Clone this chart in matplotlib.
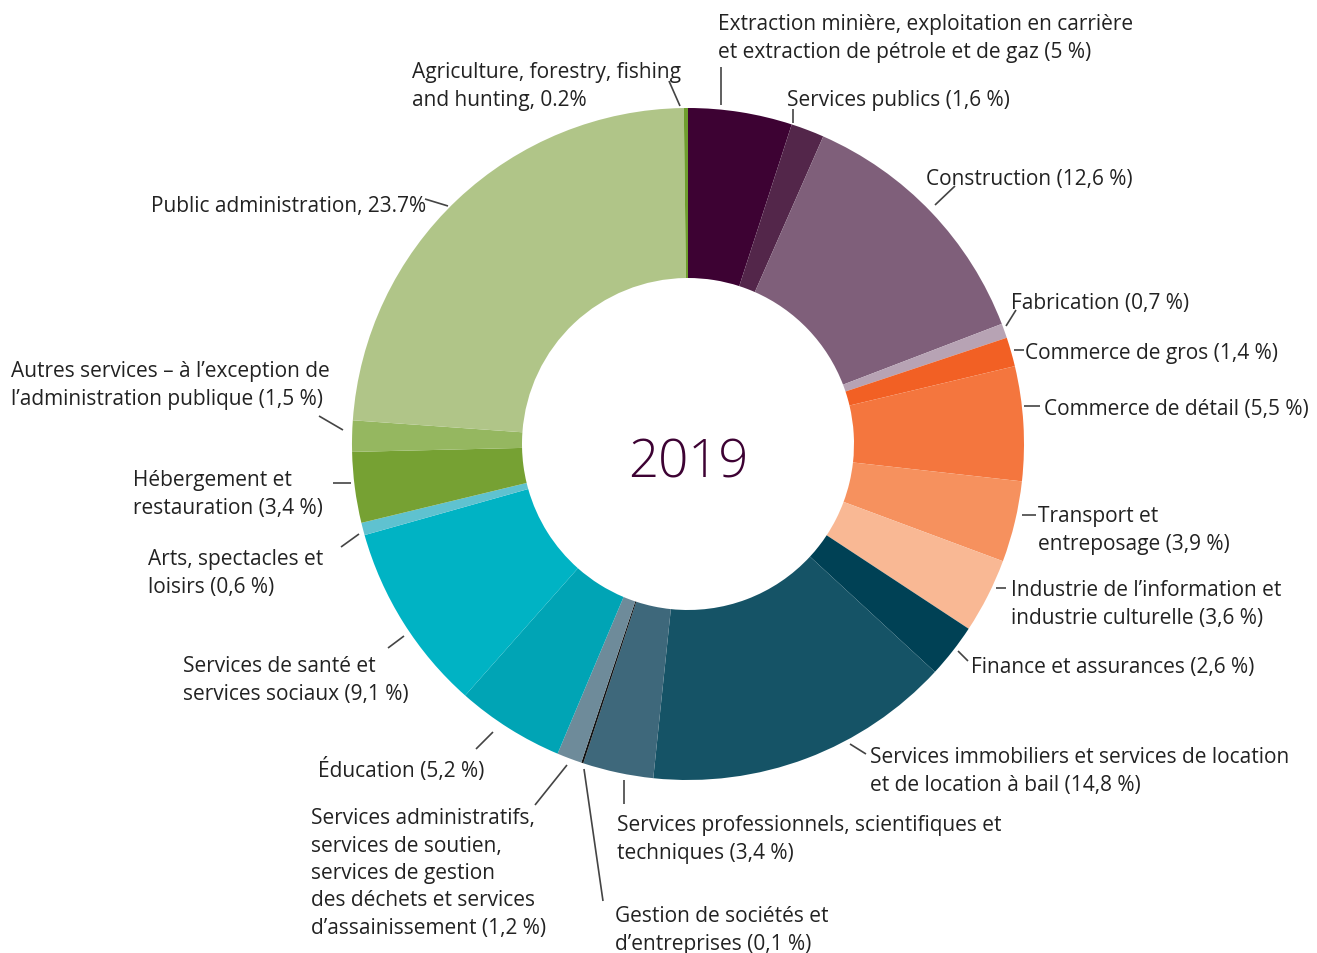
import matplotlib
matplotlib.use("Agg")
import matplotlib.pyplot as plt

# ---- data ----
labels = [
    "Extraction minière, exploitation en carrière\net extraction de pétrole et de gaz (5 %)",
    "Services publics (1,6 %)",
    "Construction (12,6 %)",
    "Fabrication (0,7 %)",
    "Commerce de gros (1,4 %)",
    "Commerce de détail (5,5 %)",
    "Transport et\nentreposage (3,9 %)",
    "Industrie de l’information et\nindustrie culturelle (3,6 %)",
    "Finance et assurances (2,6 %)",
    "Services immobiliers et services de location\net de location à bail (14,8 %)",
    "Services professionnels, scientifiques et\ntechniques (3,4 %)",
    "Gestion de sociétés et\nd’entreprises (0,1 %)",
    "Services administratifs,\nservices de soutien,\nservices de gestion\ndes déchets et services\nd’assainissement (1,2 %)",
    "Éducation (5,2 %)",
    "Services de santé et\nservices sociaux (9,1 %)",
    "Arts, spectacles et\nloisirs (0,6 %)",
    "Hébergement et\nrestauration (3,4 %)",
    "Autres services – à l’exception de\nl’administration publique (1,5 %)",
    "Public administration, 23.7%",
    "Agriculture, forestry, fishing\nand hunting, 0.2%",
]
values = [5.0, 1.6, 12.6, 0.7, 1.4, 5.5, 3.9, 3.6, 2.6, 14.8,
          3.4, 0.1, 1.2, 5.2, 9.1, 0.6, 3.4, 1.5, 23.7, 0.2]
colors = ["#3d0233", "#53264a", "#7f5f7a", "#b7a3b4", "#f26024", "#f4763e",
          "#f6915e", "#f9b894", "#004155", "#155366", "#3e687b", "#111111",
          "#6e8b9a", "#00a4b5", "#00b3c4", "#5fc2d0", "#76a133", "#95b760",
          "#b0c588", "#6f9e2e"]
center_title = "2019"

# ---- layout (pixel coords, y from top) ----
W, H = 1317, 954
cx, cy, R, rin = 688, 445, 336, 166
# (text x, text center y, leader line x0, y0, x1, y1)
label_pos = [
    (718, 36, 721, 106, 721, 68),
    (787, 98, 793, 124, 793, 110),
    (926, 177, 935, 206, 955, 187),
    (1011, 301, 1006, 327, 1016, 311),
    (1025, 351, 1014, 351, 1024, 351),
    (1044, 407, 1024, 407, 1040, 407),
    (1038, 528, 1022, 516, 1036, 516),
    (1011, 602, 996, 589, 1006, 589),
    (971, 665, 958, 652, 968, 662),
    (870, 769, 850, 745, 866, 755),
    (617, 837, 624, 781, 624, 805),
    (615, 928, 584, 770, 603, 902),
    (311, 871, 567, 766, 535, 806),
    (318, 768, 493, 733, 476, 750),
    (183, 678, 404, 637, 388, 649),
    (148, 571, 359, 535, 341, 548),
    (133, 492, 351, 484, 333, 484),
    (11, 383, 343, 431, 319, 417),
    (151, 204, 448, 207, 425, 200),
    (412, 84, 680, 107, 669, 82),
]
text_dy = 2.5

plt.rcParams['font.family'] = ['Open Sans', 'DejaVu Sans']

fig = plt.figure(figsize=(W / 100, H / 100), dpi=100)
ax = fig.add_axes([0, 0, 1, 1])

def Y(y):
    return H - y

ax.pie(values, colors=colors, center=(cx, Y(cy)), radius=R,
       startangle=90, counterclock=False,
       wedgeprops=dict(width=R - rin, edgecolor='none', linewidth=0))
ax.set_xlim(0, W)
ax.set_ylim(0, H)
ax.set_aspect('equal')
ax.axis('off')

ax.text(cx, Y(464), center_title, ha='center', va='center',
        fontsize=38, color='#3d0233', fontweight='light')

for lab, (tx, ty, x0, y0, x1, y1) in zip(labels, label_pos):
    ax.plot([x0, x1], [Y(y0), Y(y1)], color='#444444', lw=1.2,
            solid_capstyle='butt')
    ax.text(tx, Y(ty + text_dy), lab, ha='left', va='center', fontsize=15,
            color='#222222', linespacing=1.4)

fig.savefig("out.png", dpi=100)
